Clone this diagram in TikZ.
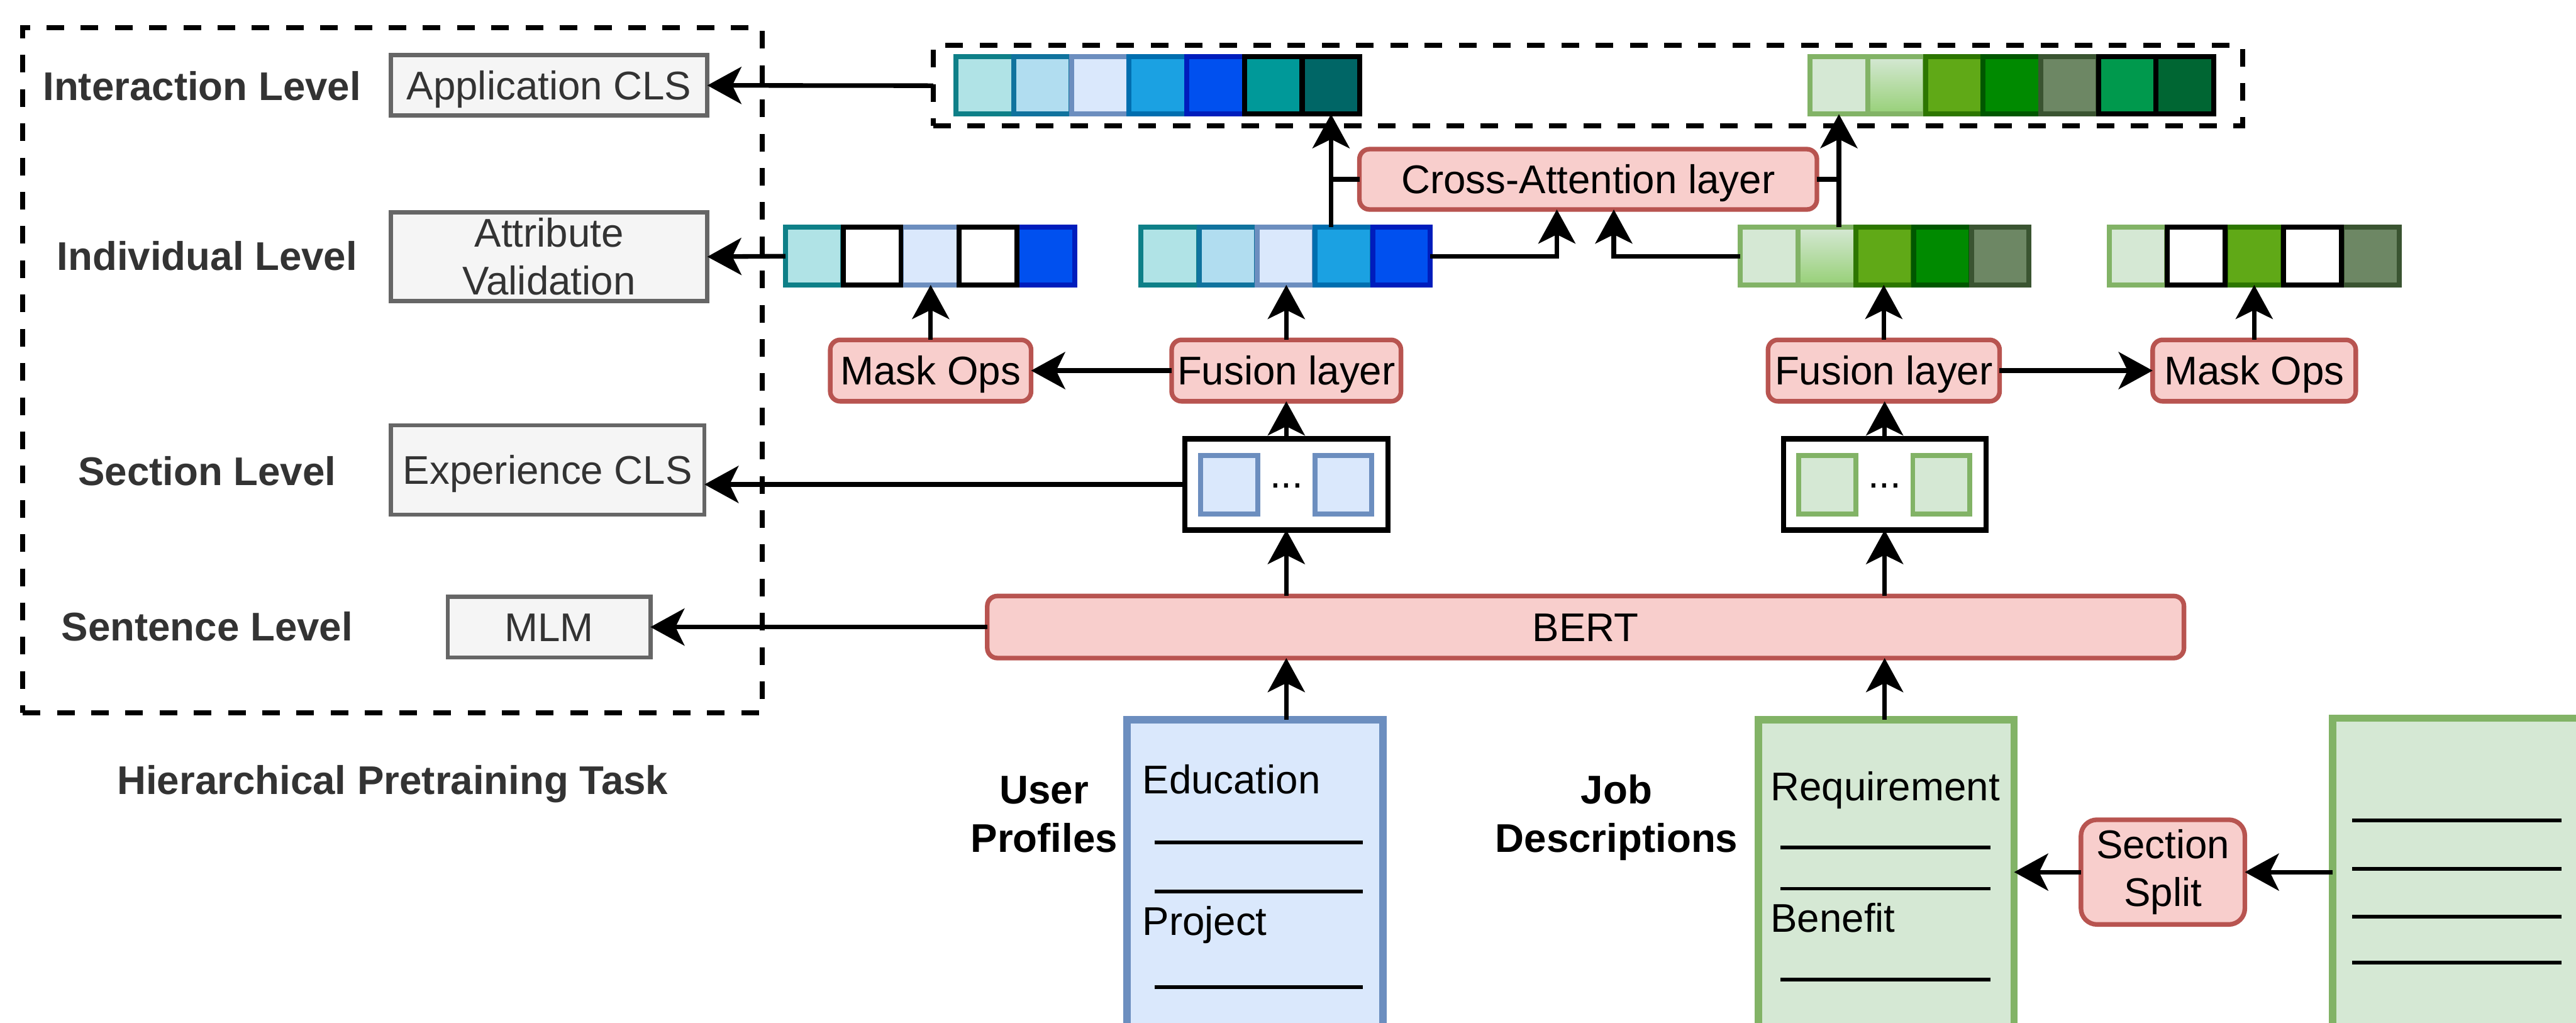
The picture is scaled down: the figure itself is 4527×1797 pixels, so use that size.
\documentclass[tikz,border=0pt]{standalone}
\usepackage{fontspec}
\setmainfont{Liberation Sans}
\usetikzlibrary{arrows.meta,calc}

% palette
\definecolor{tealL}{HTML}{B0E3E6}\definecolor{tealS}{HTML}{0E8088}
\definecolor{skyL}{HTML}{B1DDF0}\definecolor{skyS}{HTML}{10739E}
\definecolor{blueL}{HTML}{DAE8FC}\definecolor{blueS}{HTML}{6C8EBF}
\definecolor{cyanF}{HTML}{1BA1E2}\definecolor{cyanS}{HTML}{006EAF}
\definecolor{cobaltF}{HTML}{0050EF}\definecolor{cobaltS}{HTML}{001DBC}
\definecolor{tealM}{HTML}{009999}\definecolor{tealD}{HTML}{006666}
\definecolor{greenL}{HTML}{D5E8D4}\definecolor{greenS}{HTML}{82B366}
\definecolor{greenG}{HTML}{97D077}
\definecolor{limeF}{HTML}{60A917}\definecolor{limeS}{HTML}{2D7600}
\definecolor{grnF}{HTML}{008A00}\definecolor{grnS}{HTML}{005700}
\definecolor{oliveF}{HTML}{6D8764}\definecolor{oliveS}{HTML}{3A5431}
\definecolor{emerF}{HTML}{00994D}\definecolor{emerD}{HTML}{006633}
\definecolor{redF}{HTML}{F8CECC}\definecolor{redS}{HTML}{B85450}
\definecolor{grayF}{HTML}{F5F5F5}\definecolor{grayS}{HTML}{666666}
\definecolor{txtgray}{HTML}{333333}

\tikzset{
  x=0.01cm, y=-0.01cm,
  every node/.style={font=\fontsize{20}{23.9}\selectfont},
  sz/.style 2 args={minimum width=#1*0.01cm, minimum height=#2*0.01cm},
  capfit/.style={text height=14.3pt, text depth=0pt},
  cell/.style={draw, line width=2.5pt, inner sep=0pt, outer sep=0pt,
    minimum width=1.01cm, minimum height=1.01cm},
  kTeal/.style={fill=tealL, draw=tealS},
  kSky/.style={fill=skyL, draw=skyS},
  kBlue/.style={fill=blueL, draw=blueS},
  kCyan/.style={fill=cyanF, draw=cyanS},
  kCobalt/.style={fill=cobaltF, draw=cobaltS},
  kTealM/.style={fill=tealM, draw=black},
  kTealD/.style={fill=tealD, draw=black},
  kGreenL/.style={fill=greenL, draw=greenS},
  kGreenG/.style={top color=greenL, bottom color=greenG, draw=greenS},
  kLime/.style={fill=limeF, draw=limeS},
  kGreen/.style={fill=grnF, draw=grnS},
  kOlive/.style={fill=oliveF, draw=oliveS},
  kEmer/.style={fill=emerF, draw=black},
  kEmerD/.style={fill=emerD, draw=black},
  kMask/.style={fill=white, draw=black},
  redbase/.style={draw=redS, fill=redF, line width=2.3pt, rounded corners=5pt,
    inner sep=0pt, outer sep=0pt},
  redbox/.style={redbase, capfit},
  graybase/.style={draw=grayS, fill=grayF, line width=2.1pt, inner sep=0pt,
    outer sep=0pt, text=txtgray},
  graybox/.style={graybase, capfit},
  lvl/.style={font=\fontsize{20}{23.9}\selectfont\bfseries, text=txtgray,
    inner sep=0pt, capfit},
  grp/.style={draw=black, line width=2.5pt, dash pattern=on 8.8pt off 8.3pt,
    inner sep=0pt, outer sep=0pt},
  secbox/.style={draw=black, fill=white, line width=2.6pt, inner sep=0pt, outer sep=0pt},
  doc/.style={line width=3.7pt, inner sep=0pt, outer sep=0pt},
  doctext/.style={anchor=base west, inner sep=0pt},
  srclabel/.style={anchor=base, align=center, inner sep=0pt,
    font=\fontsize{20}{24.2}\selectfont\bfseries},
  arr/.style={line width=2.3pt, -{Stealth[length=17pt, width=18.5pt, inset=4.5pt]}},
  link/.style={line width=2.3pt},
  rule/.style={line width=1.8pt},
}

\begin{document}
\begin{tikzpicture}
\useasboundingbox (0,0) rectangle (4527,1797);

% ---------- hierarchical pretraining tasks ----------
\node[grp, sz={1299}{1203}] (taskgrp) at (689.5,650.5) {};
\node[lvl] (lvInter) at (355,151) {Interaction Level};
\node[lvl] (lvIndiv) at (364,450) {Individual Level};
\node[lvl] (lvSect) at (364,827) {Section Level};
\node[lvl] (lvSent) at (364,1100) {Sentence Level};
\node[lvl] (taskname) at (690,1370) {Hierarchical Pretraining Task};

\node[graybox, sz={556}{106}] (appcls) at (965,150) {Application CLS};
\node[graybase, sz={556}{156}, align=center] (attrval) at (965,451) {Attribute\\Validation};
\node[graybox, sz={551}{157}] (expcls) at (962.5,825.5) {Experience CLS};
\node[graybox, sz={356}{107}] (mlm) at (965,1101.5) {MLM};

% ---------- interaction vectors ----------
\node[grp, sz={2301}{141}] (topgrp) at (2790.5,150.5) {};
\foreach \st [count=\i] in {kTeal,kSky,kBlue,kCyan,kCobalt,kTealM,kTealD}
  \node[cell,\st] (tb\i) at ({1680+101.4*(\i-0.5)},150) {};
\foreach \st [count=\i] in {kGreenL,kGreenG,kLime,kGreen,kOlive,kEmer,kEmerD}
  \node[cell,\st] (tg\i) at ({3181+101.3*(\i-0.5)},150) {};

\node[redbox, sz={804}{106}] (cross) at (2791,315) {Cross-Attention layer};

% ---------- individual vectors ----------
\foreach \st/\i in {kTeal/1,kBlue/3,kCobalt/5,kMask/2,kMask/4}
  \node[cell,\st] (mb\i) at ({1380+101.8*(\i-0.5)},450) {};
\foreach \st [count=\i] in {kTeal,kSky,kBlue,kCyan,kCobalt}
  \node[cell,\st] (fb\i) at ({2005+101.8*(\i-0.5)},450) {};
\foreach \st [count=\i] in {kGreenL,kGreenG,kLime,kGreen,kOlive}
  \node[cell,\st] (gm\i) at ({3058+101.6*(\i-0.5)},450) {};
\foreach \st/\i in {kGreenL/1,kLime/3,kOlive/5,kMask/2,kMask/4}
  \node[cell,\st] (gmm\i) at ({3706+102.2*(\i-0.5)},450) {};

% ---------- fusion and masking ----------
\node[redbox, sz={353}{108}] (maskL) at (1635.5,651) {Mask Ops};
\node[redbox, sz={403}{108}] (fusL) at (2260.5,651) {Fusion layer};
\node[redbox, sz={407}{108}] (fusR) at (3310.5,651) {Fusion layer};
\node[redbox, sz={357}{108}] (maskR) at (3961.5,651) {Mask Ops};

% ---------- section embeddings ----------
\node[secbox, sz={357}{160}] (secU) at (2260.5,851) {};
\node[cell, kBlue, sz={100}{102}] (secU1) at (2160,851.5) {};
\node[cell, kBlue, sz={100}{102}] (secU2) at (2360.5,851.5) {};
\node[anchor=base, inner sep=0pt] (secUdots) at (2261,857) {...};
\node[secbox, sz={356}{160}] (secG) at (3312,851) {};
\node[cell, kGreenL, sz={100}{102}] (secG1) at (3211,851.5) {};
\node[cell, kGreenL, sz={100}{102}] (secG2) at (3411.5,851.5) {};
\node[anchor=base, inner sep=0pt] (secGdots) at (3312,857) {...};

\node[redbox, sz={2103}{109}] (bert) at (2786.5,1101.5) {BERT};

% ---------- input documents ----------
\begin{scope}
  \clip (0,0) rectangle (4527,1797);
  \node[doc, fill=blueL, draw=blueS, sz={450}{700}, anchor=north] (userdoc) at (2205.5,1264.5) {};
  \node[doc, fill=greenL, draw=greenS, sz={449}{700}, anchor=north] (jobdoc) at (3315,1264.5) {};
  \node[doc, fill=greenL, draw=greenS, sz={600}{700}, anchor=north west] (rawdoc) at (4099.5,1261.5) {};
\end{scope}

\node[doctext] (eduT) at (2007,1394) {Education};
\node[doctext] (projT) at (2007,1643) {Project};
\foreach \yy in {1480,1566,1734} \draw[rule] (2029,\yy) -- (2395,\yy);
\node[doctext] (reqT) at (3111,1406) {Requirement};
\node[doctext] (benT) at (3111,1637) {Benefit};
\foreach \yy in {1489,1561,1721} \draw[rule] (3129,\yy) -- (3498,\yy);
\foreach \yy in {1441,1526,1610,1691} \draw[rule] (4134,\yy) -- (4502,\yy);

% base anchor of a two-line label sits on its last line
\node[srclabel] (userlbl) at (1835,1497) {User\\Profiles};
\node[srclabel] (joblbl) at (2841,1497) {Job\\Descriptions};

\node[redbase, sz={288}{184}, align=center, rounded corners=8pt] (split) at (3801,1532) {Section\\Split};

% ---------- connectors ----------
\draw[arr] (topgrp.west) -- (appcls.east);
\draw[arr] (mb1.west) -- (attrval.east);
\draw[arr] (secU.west) -- (secU.west -| expcls.east);
\draw[arr] (bert.west) -- (mlm.east);

\draw[arr] (fusL.west) -- (maskL.east);
\draw[arr] (maskL.north) -- (maskL.north |- mb3.south);
\draw[arr] (fusL.north) -- (fusL.north |- fb3.south);
\draw[arr] (secU.north) -- (secU.north |- fusL.south);
\draw[arr] (secU.south |- bert.north) -- (secU.south);
\draw[arr] (secU.south |- userdoc.north) -- (secU.south |- bert.south);

\draw[arr] (fusR.east) -- (maskR.west);
\draw[arr] (maskR.north) -- (maskR.north |- gmm3.south);
\draw[arr] (fusR.north) -- (fusR.north |- gm3.south);
\draw[arr] (secG.north) -- (secG.north |- fusR.south);
\draw[arr] (secG.south |- bert.north) -- (secG.south);
\draw[arr] (secG.south |- jobdoc.north) -- (secG.south |- bert.south);

\draw[arr] (tb7.south |- fb4.north) -- (tb7.south);
\draw[link] (cross.west) -- (cross.west -| tb7.south);
\draw[arr] (tg1.south |- gm2.north) -- (tg1.south);
\draw[link] (cross.east) -- (cross.east -| tg1.south);
\draw[arr] (fb5.east) -| ([xshift=-0.55cm]cross.south);
\draw[arr] (gm1.west) -| ([xshift=0.45cm]cross.south);

\draw[arr] (rawdoc.west |- split.east) -- (split.east);
\draw[arr] (split.west) -- (split.west -| jobdoc.east);
\end{tikzpicture}
\end{document}
